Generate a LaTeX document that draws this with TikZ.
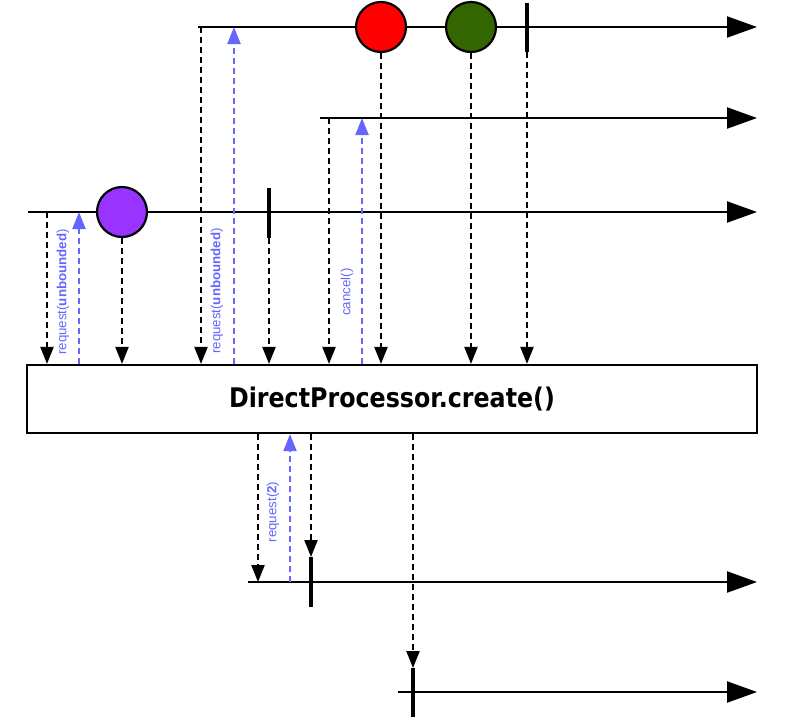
\documentclass[tikz,border=0pt]{standalone}
\usepackage{fontspec}
\setmainfont{DejaVu Sans}
\newfontfamily\titlefont[FakeStretch=0.88]{DejaVu Sans}
\newfontfamily\lblfont{Liberation Sans}
\usetikzlibrary{arrows.meta}
\definecolor{reqblue}{HTML}{6666FF}
\definecolor{evgreen}{HTML}{336600}
\definecolor{evpurple}{HTML}{9933FF}
\begin{document}
\begin{tikzpicture}[x=1pt,y=-1pt,
  timeline/.style={line width=2.2pt, -{Triangle[length=30pt,width=21pt]}},
  dar/.style={line width=2.2pt, dash pattern=on 6pt off 4pt, -{Triangle[length=17pt,width=13pt]}},
  uar/.style={dar, color=reqblue},
  evt/.style={circle, draw, line width=2.2pt, minimum size=50pt, inner sep=0pt},
  bar/.style={line width=3.8pt},
  lbl/.style={font=\lblfont\fontsize{13.3}{15}\selectfont, text=reqblue, rotate=90, inner sep=0pt}
]
\useasboundingbox (0,0) rectangle (785,721);

% timelines
\coordinate (t1s) at (198,27);  \coordinate (t1e) at (757,27);
\coordinate (t2s) at (320,118); \coordinate (t2e) at (757,118);
\coordinate (t3s) at (28,212);  \coordinate (t3e) at (757,212);
\coordinate (t4s) at (248,582); \coordinate (t4e) at (757,582);
\coordinate (t5s) at (398,692); \coordinate (t5e) at (757,692);
\draw[timeline] (t1s) -- (t1e);
\draw[timeline] (t2s) -- (t2e);
\draw[timeline] (t3s) -- (t3e);
\draw[timeline] (t4s) -- (t4e);
\draw[timeline] (t5s) -- (t5e);

% operator box
\node[draw, line width=2.2pt, minimum width=730pt, minimum height=68pt, inner sep=0pt,
      font=\titlefont\bfseries\fontsize{27}{30}\selectfont] (box) at (392,399) {DirectProcessor.create()};

% events
\node[evt, fill=red] (red) at (381,27) {};
\node[evt, fill=evgreen] (green) at (471,27) {};
\node[evt, fill=evpurple] (purple) at (122,212) {};

% completion bars
\coordinate (b1t) at (527,3);   \coordinate (b1b) at (527,52);
\coordinate (b3t) at (269,188); \coordinate (b3b) at (269,238);
\coordinate (b4t) at (311,557); \coordinate (b4b) at (311,607);
\coordinate (b5t) at (413,668); \coordinate (b5b) at (413,717);
\draw[bar] (b1t) -- (b1b);
\draw[bar] (b3t) -- (b3b);
\draw[bar] (b4t) -- (b4b);
\draw[bar] (b5t) -- (b5b);

% subscription points
\coordinate (s3) at (47,212);
\coordinate (s1) at (201,27);
\coordinate (s2) at (329,118);
\coordinate (r3) at (79,212);
\coordinate (r1) at (234,27);
\coordinate (r2) at (362,118);

% downward signals into the box
\draw[dar] (s3) -- (s3 |- box.north);
\draw[dar] (purple.south) -- (purple.south |- box.north);
\draw[dar] (s1) -- (s1 |- box.north);
\draw[dar] (b3b) -- (b3b |- box.north);
\draw[dar] (s2) -- (s2 |- box.north);
\draw[dar] (red.south) -- (red.south |- box.north);
\draw[dar] (green.south) -- (green.south |- box.north);
\draw[dar] (b1b) -- (b1b |- box.north);

% upward requests
\draw[uar] (r3 |- box.north) -- (r3);
\draw[uar] (r1 |- box.north) -- (r1);
\draw[uar] (r2 |- box.north) -- (r2);
\node[lbl] (l3) at (63,292) {request(\textbf{unbounded})};
\node[lbl] (l1) at (217,291) {request(\textbf{unbounded})};
\node[lbl] (l2) at (347,292) {cancel()};

% below the box
\coordinate (d4) at (258,582);
\coordinate (r4) at (290,582);
\draw[dar] (d4 |- box.south) -- (d4);
\draw[uar] (r4) -- (r4 |- box.south);
\node[lbl] (l4) at (273,512) {request(\textbf{2})};
\draw[dar] (b4t |- box.south) -- (b4t);
\draw[dar] (b5t |- box.south) -- (b5t);
\end{tikzpicture}
\end{document}
